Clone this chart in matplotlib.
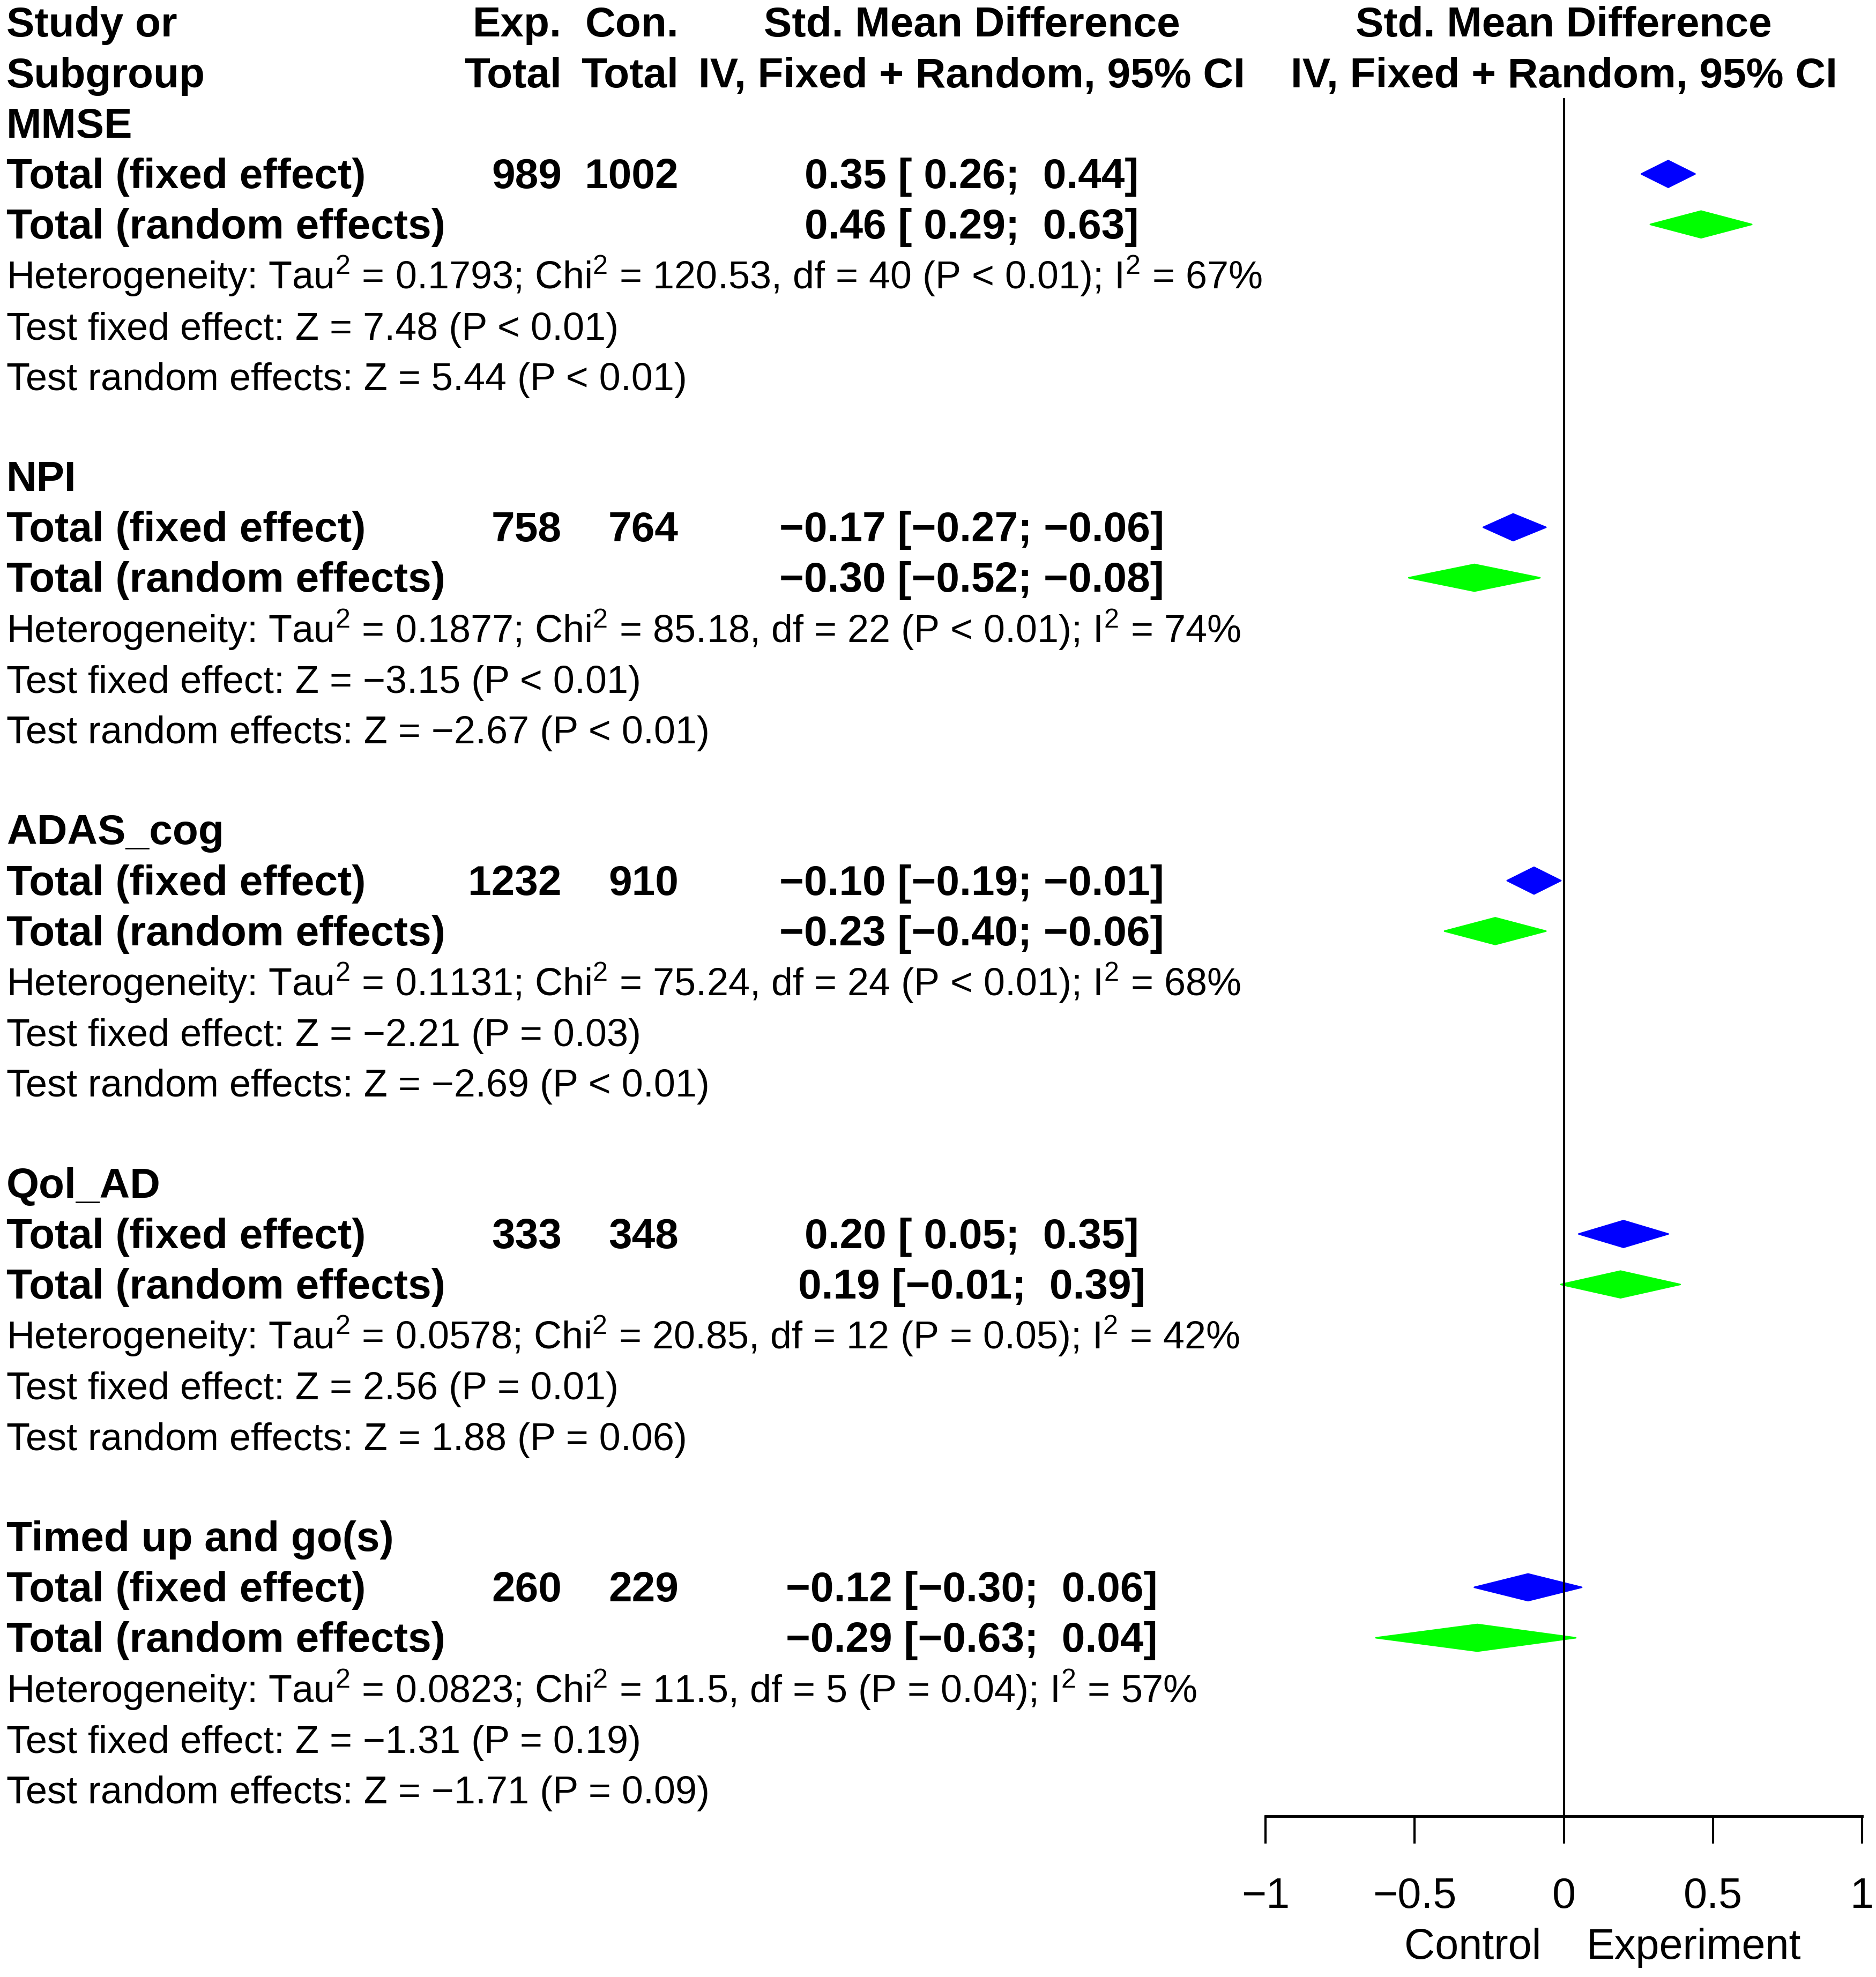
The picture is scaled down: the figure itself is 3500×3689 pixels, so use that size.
import matplotlib
matplotlib.use('Agg')
import matplotlib.pyplot as plt
import matplotlib.transforms as mtransforms

plt.rcParams['font.family'] = 'Liberation Sans'
plt.rcParams['mathtext.fontset'] = 'custom'
plt.rcParams['mathtext.rm'] = 'Liberation Sans'
plt.rcParams['mathtext.it'] = 'Liberation Sans:italic'
plt.rcParams['mathtext.bf'] = 'Liberation Sans:bold'

# subgroup results
groups = ['MMSE', 'NPI', 'ADAS_cog', 'Qol_AD', 'Timed up and go(s)']
n_exp = [989, 758, 1232, 333, 260]
n_con = [1002, 764, 910, 348, 229]
fe_est = [0.35, -0.17, -0.10, 0.20, -0.12]
fe_lo = [0.26, -0.27, -0.19, 0.05, -0.30]
fe_hi = [0.44, -0.06, -0.01, 0.35, 0.06]
re_est = [0.46, -0.30, -0.23, 0.19, -0.29]
re_lo = [0.29, -0.52, -0.40, -0.01, -0.63]
re_hi = [0.63, -0.08, -0.06, 0.39, 0.04]
tau2 = ['0.1793', '0.1877', '0.1131', '0.0578', '0.0823']
chi2 = ['120.53', '85.18', '75.24', '20.85', '11.5']
df = [40, 22, 24, 12, 5]
p_het = ['P < 0.01', 'P < 0.01', 'P < 0.01', 'P = 0.05', 'P = 0.04']
i2 = [67, 74, 68, 42, 57]
z_fe = ['7.48', '−3.15', '−2.21', '2.56', '−1.31']
p_fe = ['P < 0.01', 'P < 0.01', 'P = 0.03', 'P = 0.01', 'P = 0.19']
z_re = ['5.44', '−2.67', '−2.69', '1.88', '−1.71']
p_re = ['P < 0.01', 'P < 0.01', 'P < 0.01', 'P = 0.06', 'P = 0.09']

xticks = [-1, -0.5, 0, 0.5, 1]
xticklabels = ['−1', '−0.5', '0', '0.5', '1']


def num(v, pad=True):
    s = f'{abs(v):.2f}'
    if v < 0:
        return '−' + s
    return (' ' + s) if pad else s


def ci_text(est, lo, hi):
    return f'{num(est, False)} [{num(lo)}; {num(hi)}]'


fig = plt.figure(figsize=(35, 36.89), dpi=100)
ax = fig.add_axes([0.6746, 0, 0.318, 1])
ax.set_xlim(-1, 1)
ax.set_ylim(38.72, -0.446)
ax.patch.set_visible(False)
for s in ['top', 'left', 'right']:
    ax.spines[s].set_visible(False)
axis_row = 35.54
ax.spines['bottom'].set_position(('data', axis_row))
ax.spines['bottom'].set_bounds(-1, 1)
ax.spines['bottom'].set_linewidth(3.5)
ax.set_yticks([])
ax.set_xticks(xticks)
ax.set_xticklabels(xticklabels)
ax.tick_params(axis='x', direction='out', length=36.7, width=3, pad=44, labelsize=57)

ax.vlines(0, 1.5, axis_row, color='black', lw=3)

tr = mtransforms.blended_transform_factory(fig.transFigure, ax.transData)
fs = 51.8
fs_bold = 56.5
off = 0.28
x_left = 0.0034
x_exp = 0.2994
x_con = 0.3617
x_ci = 0.518


def put(x, r, s, bold=False, ha='left', trans=tr):
    ax.text(x, r + off, s, transform=trans, ha=ha, va='baseline',
            fontsize=fs_bold if bold else fs,
            fontweight='bold' if bold else 'normal', clip_on=False)


# header
put(x_left, 0, 'Study or', True)
put(x_left, 1, 'Subgroup', True)
put(x_exp, 0, 'Exp.', True, 'right')
put(x_exp, 1, 'Total', True, 'right')
put(x_con, 0, 'Con.', True, 'right')
put(x_con, 1, 'Total', True, 'right')
put(x_ci, 0, 'Std. Mean Difference', True, 'center')
put(x_ci, 1, 'IV, Fixed + Random, 95% CI', True, 'center')
put(0, 0, 'Std. Mean Difference', True, 'center', ax.transData)
put(0, 1, 'IV, Fixed + Random, 95% CI', True, 'center', ax.transData)

h = 0.265
for k, g in enumerate(groups):
    b = 2 + 7 * k
    put(x_left, b, g, True)
    put(x_left, b + 1, 'Total (fixed effect)', True)
    put(x_exp, b + 1, str(n_exp[k]), True, 'right')
    put(x_con, b + 1, str(n_con[k]), True, 'right')
    put(x_ci, b + 1, ci_text(fe_est[k], fe_lo[k], fe_hi[k]), True, 'center')
    put(x_left, b + 2, 'Total (random effects)', True)
    put(x_ci, b + 2, ci_text(re_est[k], re_lo[k], re_hi[k]), True, 'center')
    put(x_left, b + 3, f'Heterogeneity: Tau$^{{2}}$ = {tau2[k]}; Chi$^{{2}}$ = {chi2[k]}, '
                       f'df = {df[k]} ({p_het[k]}); I$^{{2}}$ = {i2[k]}%')
    put(x_left, b + 4, f'Test fixed effect: Z = {z_fe[k]} ({p_fe[k]})')
    put(x_left, b + 5, f'Test random effects: Z = {z_re[k]} ({p_re[k]})')

    r = b + 1
    ax.fill([fe_lo[k], fe_est[k], fe_hi[k], fe_est[k]], [r, r - h, r, r + h],
            color='#0000FF', lw=2, joinstyle='round')
    r = b + 2
    ax.fill([re_lo[k], re_est[k], re_hi[k], re_est[k]], [r, r - h, r, r + h],
            color='#00FF00', lw=2, joinstyle='round')

ax.text(-0.075, 38.08 + off, 'Control', ha='right', va='baseline', fontsize=57)
ax.text(0.075, 38.08 + off, 'Experiment', ha='left', va='baseline', fontsize=57)

fig.savefig('out.png', dpi=100)
